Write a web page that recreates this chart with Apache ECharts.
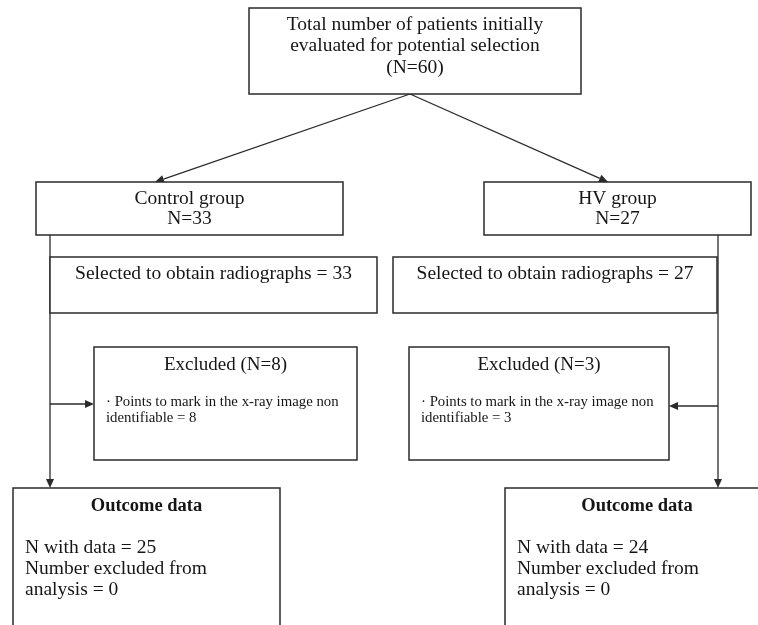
<!DOCTYPE html>
<html>
<head>
<meta charset="utf-8">
<script src="https://cdn.jsdelivr.net/npm/echarts@6/dist/echarts.min.js"></script>
<style>
  html, body { margin: 0; padding: 0; background: #fff; }
  #chart { width: 758px; height: 625px; }
</style>
</head>
<body>
<div id="chart"></div>
<script>
// flow data
const totalN = 60
const groupNames = ['Control group', 'HV group']
const groupN = [33, 27]
const selectedN = [33, 27]
const excludedN = [8, 3]
const withDataN = [25, 24]
const excludedAnalysisN = [0, 0]

const serif = '"Liberation Serif", "DejaVu Serif", serif'
const lineColor = '#2b2b2b'
const textColor = '#151515'

function box(x, y, w, h) {
  return {
    type: 'rect',
    shape: { x: x, y: y, width: w, height: h },
    style: { fill: '#fff', stroke: lineColor, lineWidth: 1.5 }
  }
}

function centerText(cx, cy, str, size, bold) {
  return {
    type: 'text',
    x: cx,
    y: cy,
    style: {
      text: str,
      fill: textColor,
      font: (bold ? 'bold ' : '') + size + 'px ' + serif,
      textAlign: 'center',
      textVerticalAlign: 'middle'
    }
  }
}

function leftText(x, cy, str, size) {
  return {
    type: 'text',
    x: x,
    y: cy,
    style: {
      text: str,
      fill: textColor,
      font: size + 'px ' + serif,
      textAlign: 'left',
      textVerticalAlign: 'middle'
    }
  }
}

function line(x1, y1, x2, y2) {
  return {
    type: 'line',
    shape: { x1: x1, y1: y1, x2: x2, y2: y2 },
    style: { stroke: lineColor, lineWidth: 1.3 }
  }
}

// arrow with head at (x2, y2)
function arrow(x1, y1, x2, y2) {
  const a = Math.atan2(y2 - y1, x2 - x1)
  const len = 9
  const half = 4
  const bx = x2 - len * Math.cos(a)
  const by = y2 - len * Math.sin(a)
  return [
    line(x1, y1, bx, by),
    {
      type: 'polygon',
      shape: {
        points: [
          [x2, y2],
          [bx + half * Math.sin(a), by - half * Math.cos(a)],
          [bx - half * Math.sin(a), by + half * Math.cos(a)]
        ]
      },
      style: { fill: lineColor }
    }
  ]
}

const chart = echarts.init(document.getElementById('chart'))

const els = []
// connectors first, boxes above
els.push(...arrow(410, 94, 155, 182))
els.push(...arrow(410, 94, 608, 182))
els.push(...arrow(50, 235, 50, 488))
els.push(...arrow(718, 232, 718, 488))
els.push(...arrow(50, 404, 94, 404))
els.push(...arrow(718, 406, 669, 406))

// top box
els.push(box(249, 8, 332, 86))
els.push(centerText(415, 25, 'Total number of patients initially', 19.5))
els.push(centerText(415, 46, 'evaluated for potential selection', 19.5))
els.push(centerText(415, 68, '(N=' + totalN + ')', 19.5))

// per group columns
const groupBox = [[36, 182, 307, 53], [484, 182, 267, 53]]
const selBox = [[50, 257, 327, 56], [393, 257, 324, 56]]
const excBox = [[94, 347, 263, 113], [409, 347, 260, 113]]
const outBox = [[13, 488, 267, 160], [505, 488, 264, 160]]

for (let i = 0; i < 2; i++) {
  const g = groupBox[i]
  els.push(box(g[0], g[1], g[2], g[3]))
  els.push(centerText(g[0] + g[2] / 2, 199, groupNames[i], 19.5))
  els.push(centerText(g[0] + g[2] / 2, 219, 'N=' + groupN[i], 19.5))

  const s = selBox[i]
  els.push(box(s[0], s[1], s[2], s[3]))
  els.push(centerText(s[0] + s[2] / 2, 274, 'Selected to obtain radiographs = ' + selectedN[i], 19.5))

  const e = excBox[i]
  els.push(box(e[0], e[1], e[2], e[3]))
  els.push(centerText(e[0] + e[2] / 2, 365, 'Excluded (N=' + excludedN[i] + ')', 19))
  els.push(leftText(e[0] + 12, 402, '· Points to mark in the x-ray image non', 14.8))
  els.push(leftText(e[0] + 12, 418, 'identifiable = ' + excludedN[i], 14.8))

  const o = outBox[i]
  els.push(box(o[0], o[1], o[2], o[3]))
  els.push(centerText(o[0] + o[2] / 2, 506, 'Outcome data', 18.5, true))
  els.push(leftText(o[0] + 12, 548, 'N with data = ' + withDataN[i], 19.5))
  els.push(leftText(o[0] + 12, 569, 'Number excluded from', 19.5))
  els.push(leftText(o[0] + 12, 590, 'analysis = ' + excludedAnalysisN[i], 19.5))
}

chart.setOption({
  animation: false,
  graphic: { elements: els }
})
</script>
</body>
</html>
